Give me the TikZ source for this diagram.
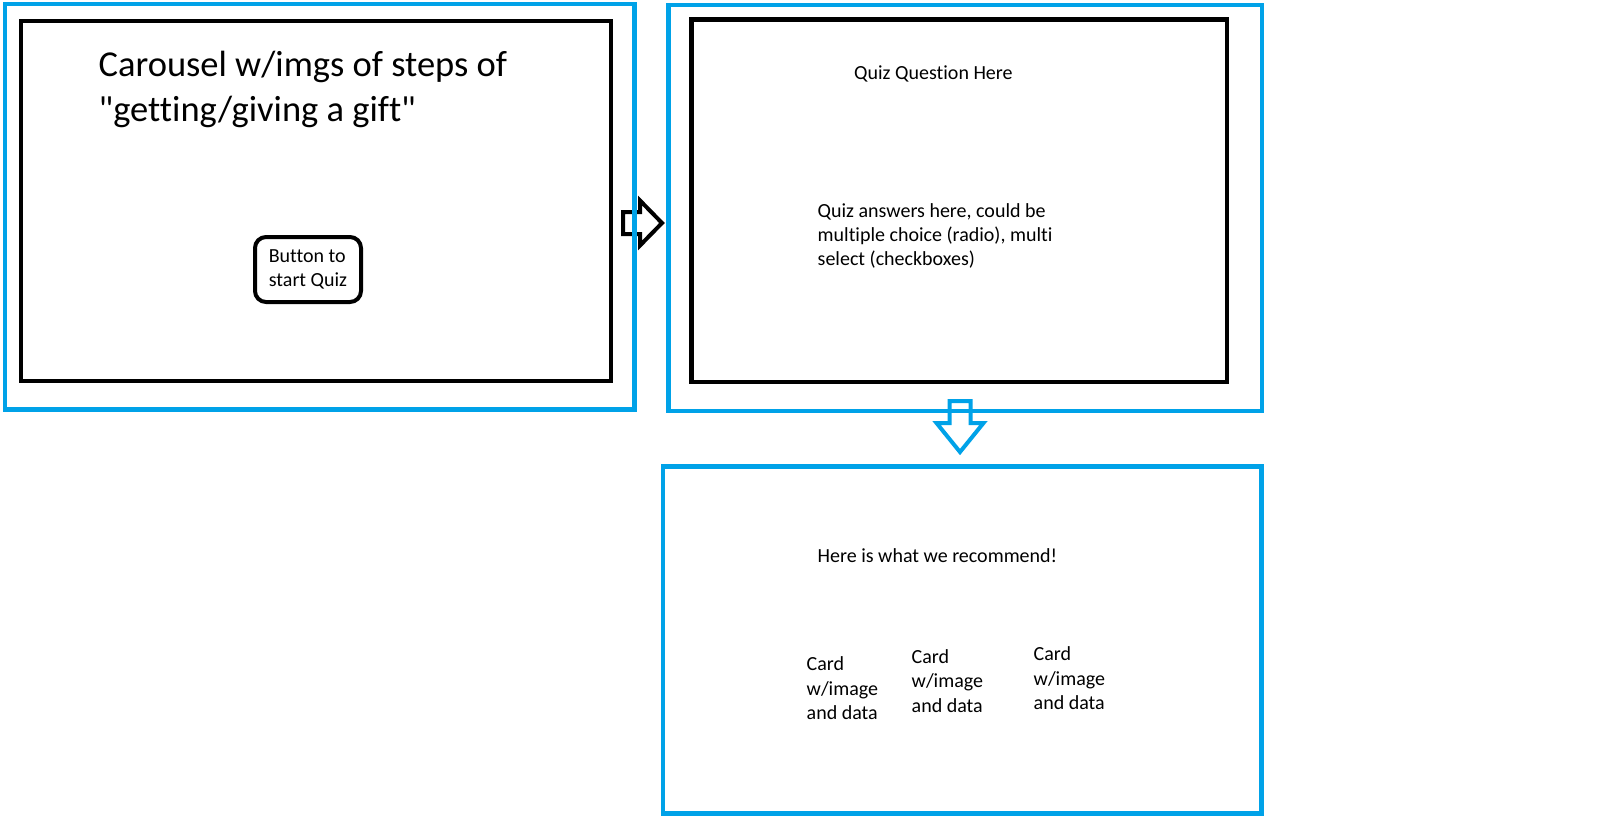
\documentclass[tikz,border=0pt]{standalone}
\usepackage{fontspec}
\newfontfamily\calibri{Carlito}[Ligatures={NoCommon,NoContextual}]
\definecolor{paintblue}{RGB}{0,162,232}
\begin{document}
\begin{tikzpicture}[x=1pt,y=-1pt,
  bluebox/.style={draw=paintblue,line width=4.5pt,inner sep=0pt,outer sep=0pt},
  blackbox/.style={draw=black,line width=4.5pt,inner sep=0pt,outer sep=0pt},
  btn/.style={draw=black,line width=4pt,rounded corners=11pt,inner sep=0pt,outer sep=0pt},
  small/.style={inner sep=0pt,anchor=west,align=left,font=\calibri\fontsize{20}{24.4}\selectfont},
  big/.style={inner sep=0pt,anchor=west,align=left,font=\calibri\fontsize{36.5}{44.5}\selectfont},
  blockarrow/.style={line width=4pt,line join=miter}
]
\useasboundingbox[fill=white] (0,0) rectangle (1610,823);

% block arrows (drawn first: the panel borders run over them)
\coordinate (ra) at (623,223);
\draw[blockarrow,draw=black]
  (ra) ++(0,-11) -- ++(17,0) -- ++(0,-11.5) -- ++(22,22.5) -- ++(-22,22.5) -- ++(0,-11.5) -- ++(-17,0) -- cycle;
\coordinate (da) at (960,401);
\draw[blockarrow,draw=paintblue]
  (da) ++(-10.5,0) -- ++(21,0) -- ++(0,22) -- ++(13,0) -- ++(-23.5,29) -- ++(-23.5,-29) -- ++(13,0) -- cycle;

% panel 1
\node[bluebox,minimum width=629.7pt,minimum height=405.8pt] (p1) at (319.65,206.8) {};
\node[blackbox,minimum width=590pt,minimum height=360.2pt] (s1) at (316,200.9) {};
\node[big] (title) at (98.5,89.5) {Carousel w/imgs of steps of\\"getting/giving a gift"};
\node[btn,minimum width=106pt,minimum height=65pt] (button) at (308,269.5) {};
\node[small,anchor=center,align=left] (btext) at (308,269.5) {Button to\\start Quiz};

% panel 2
\node[bluebox,minimum width=593.4pt,minimum height=405.8pt] (p2) at (965.3,207.9) {};
\node[blackbox,minimum width=535.5pt,minimum height=362.3pt] (s2) at (959.25,200.85) {};
\node[small] (question) at (854,74) {Quiz Question Here};
\node[small] (answers) at (817.5,236) {Quiz answers here, could be\\multiple choice (radio), multi\\select (checkboxes)};

% panel 3
\node[bluebox,minimum width=598.5pt,minimum height=346.7pt] (p3) at (962.25,640.05) {};
\node[small] (recommend) at (817.5,556) {Here is what we recommend!};
\node[small] (card1) at (806.5,688.5) {Card\\w/image\\and data};
\node[small] (card2) at (911.5,681) {Card\\w/image\\and data};
\node[small] (card3) at (1033.5,678.5) {Card\\w/image\\and data};
\end{tikzpicture}
\end{document}
